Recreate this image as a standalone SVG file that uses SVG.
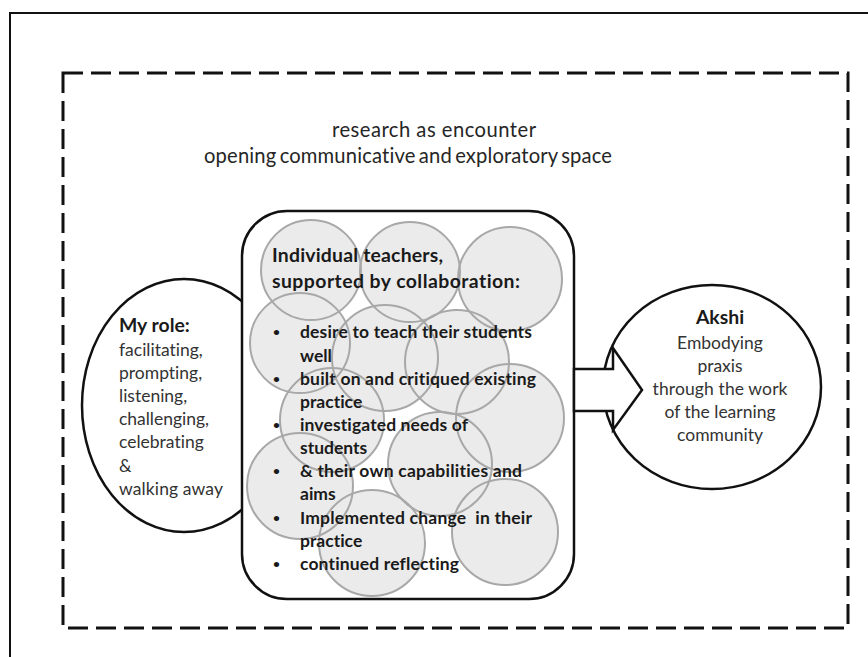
<svg xmlns="http://www.w3.org/2000/svg" width="868" height="657" viewBox="0 0 868 657">
  <style>
    .frame { fill: none; stroke: #111; stroke-width: 2; }
    .space { fill: none; stroke: #111; stroke-width: 3; stroke-dasharray: 20 8; }
    .shape { fill: #fff; stroke: #111; stroke-width: 2.5; }
    .bubble { fill: #ebebeb; stroke: none; }
    .bubble-line { fill: none; stroke: #a8a8a8; stroke-width: 2; }
    text { font-family: Lato, "Open Sans", "Liberation Sans", sans-serif; font-variant-ligatures: none; }
    .top { font-size: 20.2px; fill: #262626; }
    .head { font-size: 19.4px; font-weight: bold; fill: #1a1a1a; }
    .item { font-size: 17.5px; font-weight: bold; fill: #1a1a1a; }
    .dot { font-size: 12px; font-weight: bold; fill: #1a1a1a; }
    .body { font-size: 17.5px; fill: #333; }
    .title { font-size: 19.4px; font-weight: bold; fill: #1a1a1a; }
  </style>
  <defs>
    <g id="bubbles-shape">
      <circle cx="311" cy="270" r="50"/>
      <circle cx="410" cy="272" r="50"/>
      <circle cx="510" cy="279" r="52"/>
      <circle cx="300" cy="343" r="50"/>
      <circle cx="385" cy="358" r="53"/>
      <circle cx="457" cy="362" r="52"/>
      <circle cx="510" cy="418" r="54"/>
      <circle cx="332" cy="420" r="52"/>
      <circle cx="300" cy="486" r="53"/>
      <circle cx="440" cy="464" r="52"/>
      <circle cx="372" cy="543" r="53"/>
      <circle cx="505" cy="532" r="53"/>
    </g>
  </defs>
  <rect width="868" height="657" fill="#fff"/>

  <!-- outer frame -->
  <rect class="frame" x="10" y="13" width="880" height="670"/>

  <!-- exploratory space -->
  <g id="space">
    <rect class="space" x="63" y="73" width="785" height="555"/>
    <text class="top" x="434" y="137" text-anchor="middle" textLength="204" lengthAdjust="spacing">research as encounter</text>
    <text class="top" x="408" y="163" text-anchor="middle" textLength="408" lengthAdjust="spacing" word-spacing="-2">opening communicative and exploratory space</text>
  </g>

  <!-- my role -->
  <g id="role">
    <ellipse class="shape" cx="184" cy="405.5" rx="102" ry="126.5"/>
    <text class="title" x="119" y="332">My role:</text>
    <text class="body" x="119" y="355.5">facilitating,</text>
    <text class="body" x="119" y="378.7">prompting,</text>
    <text class="body" x="119" y="401.9">listening,</text>
    <text class="body" x="119" y="425.1" textLength="90" lengthAdjust="spacing">challenging,</text>
    <text class="body" x="119" y="448.3">celebrating</text>
    <text class="body" x="119" y="471.5">&amp;</text>
    <text class="body" x="119" y="494.7" textLength="104" lengthAdjust="spacing">walking away</text>
  </g>

  <!-- teachers -->
  <g id="teachers">
    <rect class="shape" x="242" y="211" width="332" height="388" rx="45" ry="45"/>
    <use href="#bubbles-shape" class="bubble"/>
    <use href="#bubbles-shape" class="bubble-line"/>
    <text class="head" x="272" y="262" textLength="171" lengthAdjust="spacing">Individual teachers,</text>
    <text class="head" x="272" y="288" textLength="248" lengthAdjust="spacing">supported by collaboration:</text>
    <g class="dot">
      <text x="273" y="336">•</text>
      <text x="273" y="383">•</text>
      <text x="273" y="429">•</text>
      <text x="273" y="475">•</text>
      <text x="273" y="521.5">•</text>
      <text x="273" y="568">•</text>
    </g>
    <g class="item">
      <text x="300" y="338" textLength="232" lengthAdjust="spacing">desire to teach their students</text>
      <text x="300" y="361.5">well</text>
      <text x="300" y="385" textLength="236" lengthAdjust="spacing">built on and critiqued existing</text>
      <text x="300" y="408">practice</text>
      <text x="300" y="431" textLength="168" lengthAdjust="spacing">investigated needs of</text>
      <text x="300" y="454">students</text>
      <text x="300" y="477" textLength="222" lengthAdjust="spacing">&amp; their own capabilities and</text>
      <text x="300" y="500">aims</text>
      <text x="300" y="523.5" textLength="232" lengthAdjust="spacing" xml:space="preserve">Implemented change  in their</text>
      <text x="300" y="547">practice</text>
      <text x="300" y="570" textLength="159" lengthAdjust="spacing">continued reflecting</text>
    </g>
  </g>

  <!-- akshi -->
  <g id="akshi">
    <ellipse class="shape" cx="712" cy="387" rx="109" ry="102"/>
    <text class="title" x="720" y="324" text-anchor="middle">Akshi</text>
    <text class="body" x="720" y="349" text-anchor="middle">Embodying</text>
    <text class="body" x="720" y="372" text-anchor="middle">praxis</text>
    <text class="body" x="720" y="395" text-anchor="middle" textLength="135" lengthAdjust="spacing">through the work</text>
    <text class="body" x="720" y="418" text-anchor="middle">of the learning</text>
    <text class="body" x="720" y="441" text-anchor="middle">community</text>
  </g>

  <!-- connectors -->
  <g id="connectors">
    <polygon class="shape" stroke-linejoin="miter" points="574,369 613,369 613,348 642,390 613,430 613,411 574,411"/>
  </g>
</svg>
